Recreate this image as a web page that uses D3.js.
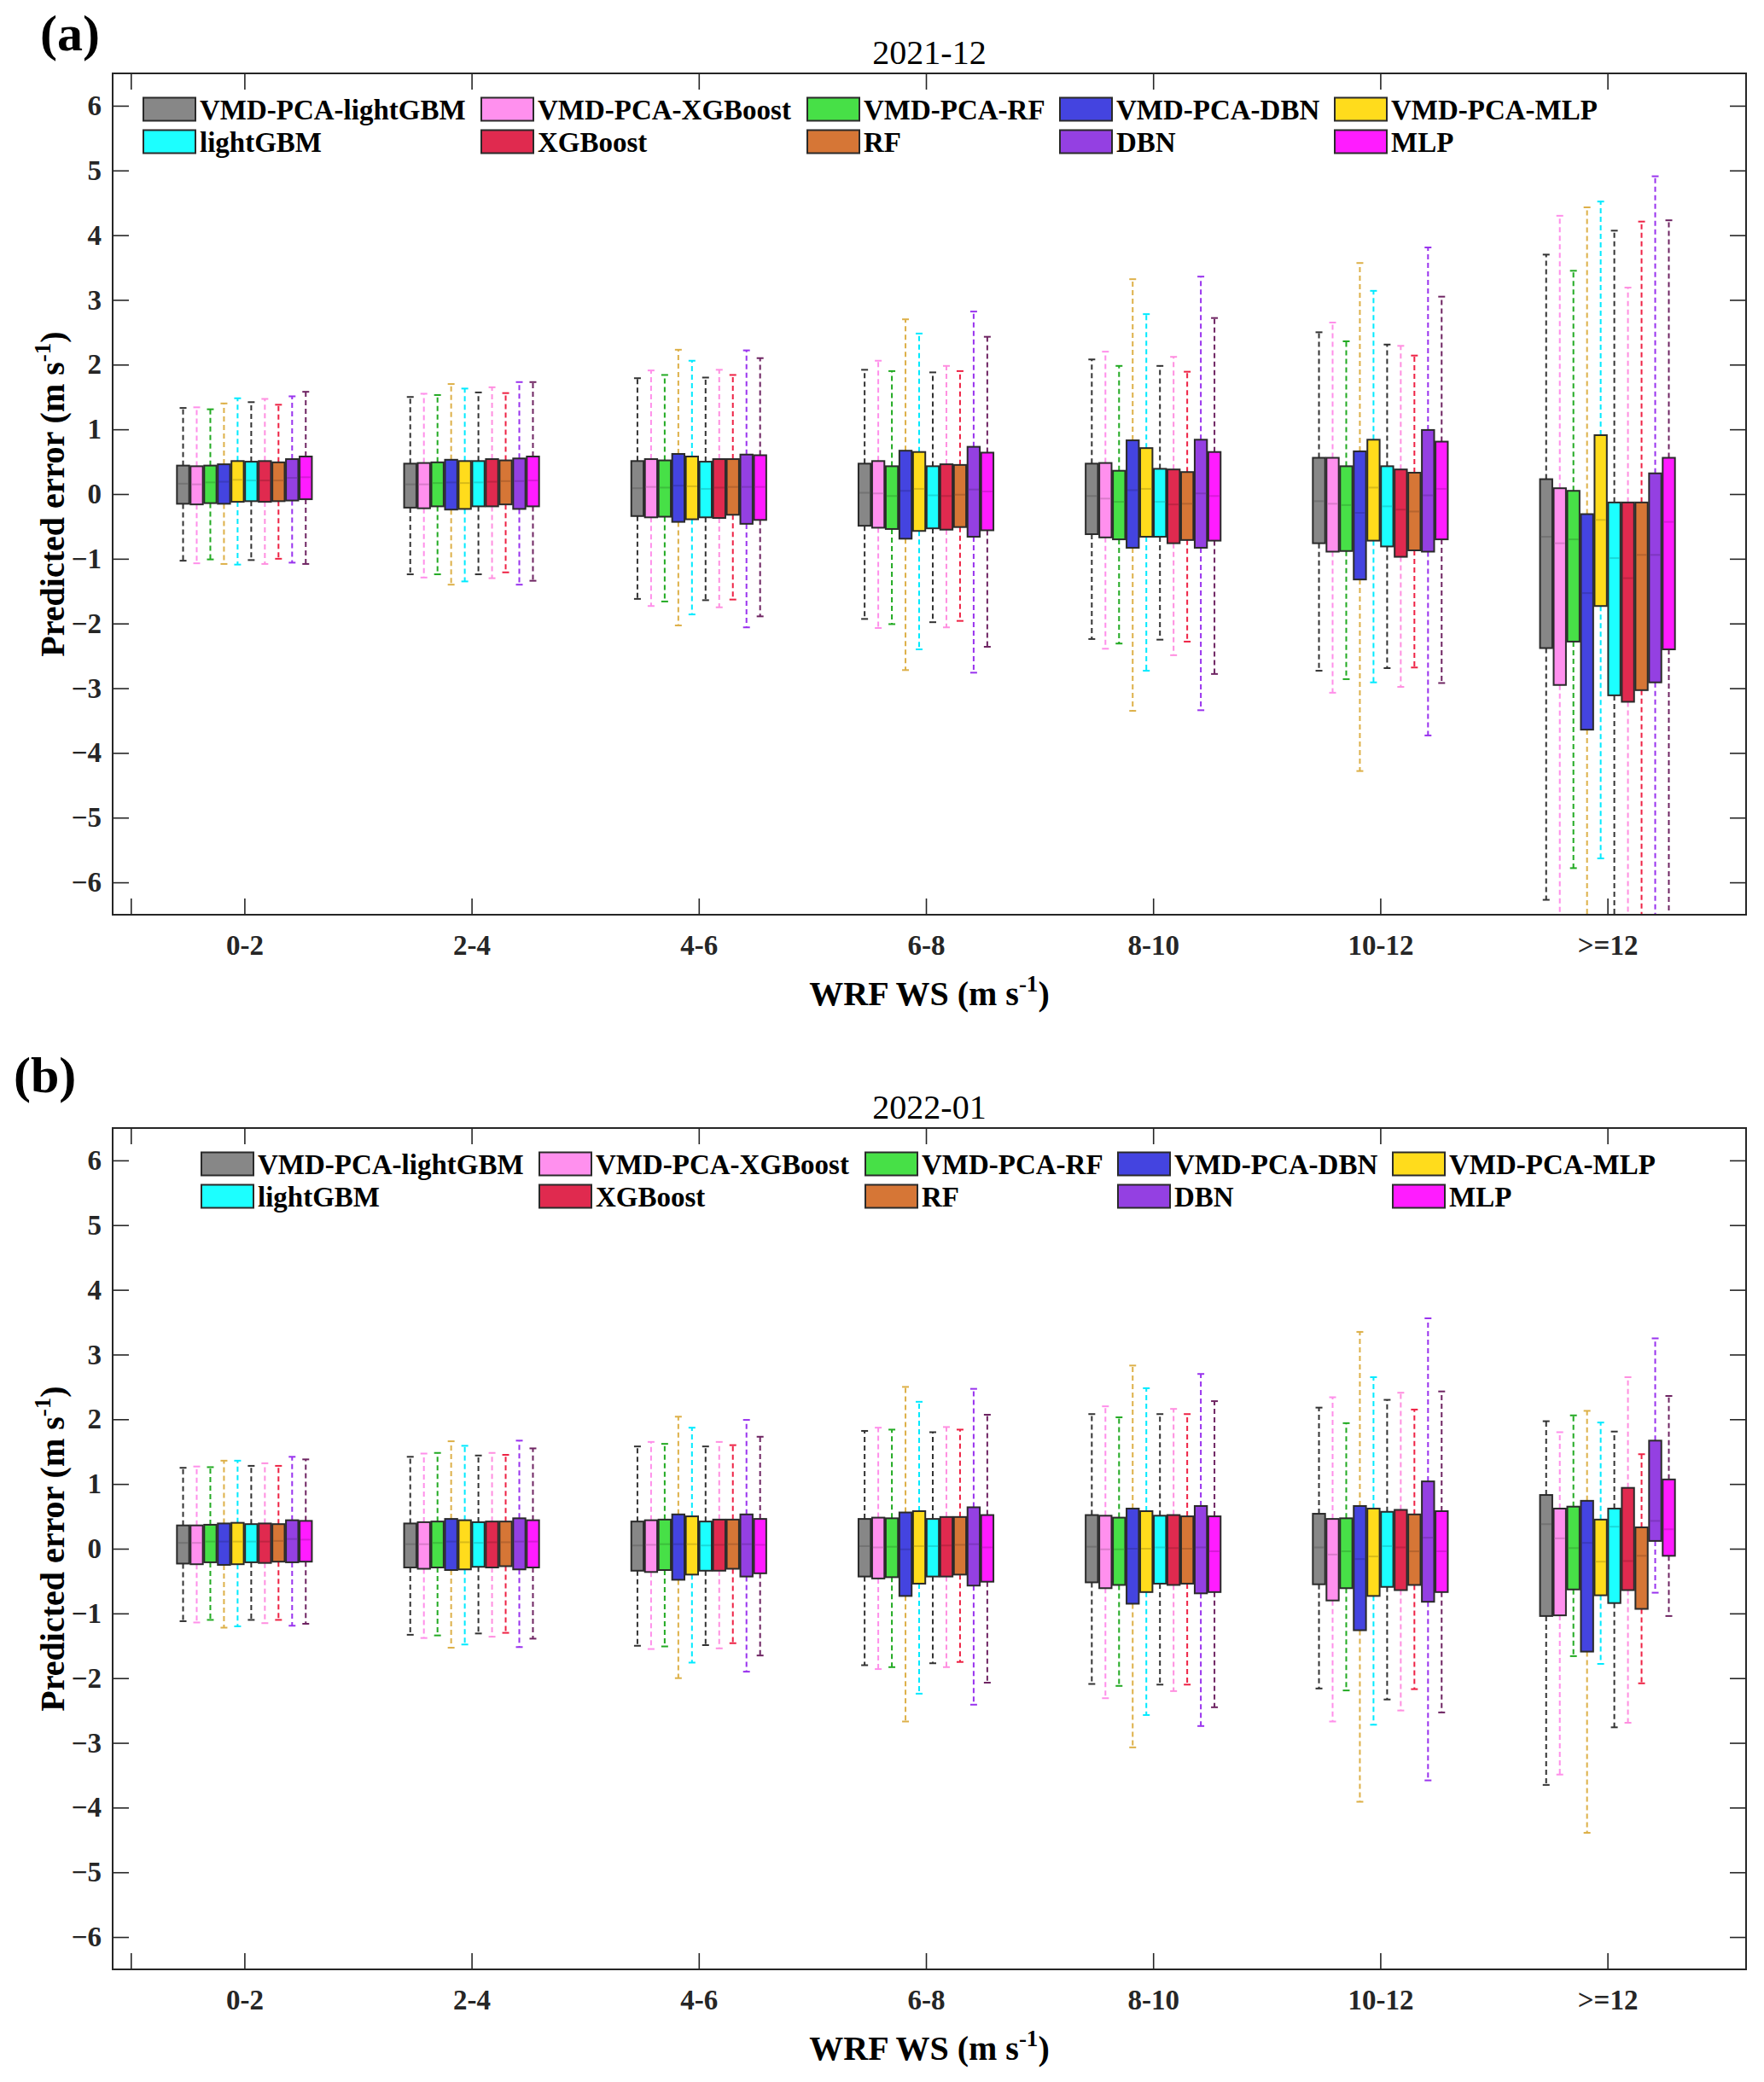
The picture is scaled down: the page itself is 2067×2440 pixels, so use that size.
<!DOCTYPE html>
<html>
<head>
<meta charset="utf-8">
<script src="https://cdn.jsdelivr.net/npm/d3@7"></script>
<style>
  body { margin: 0; background: #fff; }
  text { font-family: "Liberation Serif", "Times New Roman", serif; }
</style>
</head>
<body>
<svg id="chart" width="2067" height="2440"></svg>
<script>
const categories = ["0-2", "2-4", "4-6", "6-8", "8-10", "10-12", ">=12"]
const series = ["VMD-PCA-lightGBM", "VMD-PCA-XGBoost", "VMD-PCA-RF", "VMD-PCA-DBN", "VMD-PCA-MLP",
                "lightGBM", "XGBoost", "RF", "DBN", "MLP"]
const y_ticks = [-6, -5, -4, -3, -2, -1, 0, 1, 2, 3, 4, 5, 6]

// 2021-12, one row per wind speed bin, one value per model
const dec_upper = [
  [1.33, 1.34, 1.31, 1.40, 1.48, 1.42, 1.47, 1.38, 1.51, 1.58],
  [1.50, 1.55, 1.53, 1.70, 1.63, 1.57, 1.65, 1.56, 1.73, 1.73],
  [1.79, 1.91, 1.84, 2.23, 2.06, 1.80, 1.92, 1.84, 2.22, 2.10],
  [1.92, 2.06, 1.90, 2.70, 2.48, 1.88, 1.98, 1.90, 2.82, 2.43],
  [2.08, 2.20, 1.98, 3.32, 2.78, 1.98, 2.12, 1.89, 3.36, 2.72],
  [2.50, 2.65, 2.36, 3.57, 3.14, 2.31, 2.29, 2.14, 3.81, 3.05],
  [3.70, 4.30, 3.45, 4.43, 4.52, 4.07, 3.19, 4.21, 4.91, 4.23]
]
const dec_q3 = [
  [0.44, 0.43, 0.44, 0.46, 0.51, 0.50, 0.51, 0.49, 0.54, 0.58],
  [0.47, 0.48, 0.49, 0.53, 0.51, 0.51, 0.54, 0.52, 0.55, 0.58],
  [0.51, 0.54, 0.52, 0.62, 0.58, 0.50, 0.54, 0.54, 0.61, 0.60],
  [0.47, 0.51, 0.43, 0.67, 0.65, 0.43, 0.46, 0.45, 0.73, 0.64],
  [0.47, 0.48, 0.36, 0.83, 0.71, 0.39, 0.38, 0.34, 0.84, 0.65],
  [0.56, 0.56, 0.43, 0.66, 0.84, 0.43, 0.38, 0.33, 0.99, 0.81],
  [0.23, 0.09, 0.05, -0.31, 0.91, -0.13, -0.13, -0.13, 0.32, 0.56]
]
const dec_median = [
  [0.16, 0.15, 0.18, 0.19, 0.22, 0.21, 0.21, 0.21, 0.25, 0.26],
  [0.15, 0.15, 0.17, 0.18, 0.17, 0.18, 0.19, 0.20, 0.20, 0.21],
  [0.09, 0.11, 0.10, 0.13, 0.12, 0.08, 0.10, 0.11, 0.11, 0.11],
  [0.02, 0.01, -0.03, 0.05, 0.08, -0.02, -0.03, -0.01, 0.07, 0.04],
  [-0.03, -0.07, -0.12, 0.06, 0.08, -0.12, -0.16, -0.15, 0.01, -0.03],
  [-0.11, -0.15, -0.17, -0.29, 0.10, -0.19, -0.24, -0.27, -0.02, 0.08],
  [-0.66, -0.76, -0.70, -1.53, -0.40, -0.99, -1.30, -0.94, -0.94, -0.43]
]
const dec_q1 = [
  [-0.15, -0.16, -0.14, -0.15, -0.12, -0.11, -0.12, -0.11, -0.10, -0.08],
  [-0.21, -0.22, -0.19, -0.24, -0.23, -0.19, -0.19, -0.16, -0.23, -0.19],
  [-0.34, -0.36, -0.35, -0.43, -0.39, -0.36, -0.37, -0.32, -0.46, -0.40],
  [-0.49, -0.52, -0.54, -0.69, -0.57, -0.53, -0.55, -0.51, -0.66, -0.56],
  [-0.62, -0.67, -0.70, -0.83, -0.66, -0.66, -0.76, -0.71, -0.83, -0.72],
  [-0.76, -0.89, -0.88, -1.32, -0.72, -0.81, -0.97, -0.87, -0.89, -0.70],
  [-2.38, -2.95, -2.28, -3.64, -1.73, -3.11, -3.21, -3.03, -2.91, -2.40]
]
const dec_lower = [
  [-1.03, -1.07, -1.01, -1.08, -1.09, -1.02, -1.08, -1.00, -1.06, -1.08],
  [-1.24, -1.29, -1.24, -1.40, -1.35, -1.24, -1.30, -1.21, -1.40, -1.34],
  [-1.62, -1.73, -1.66, -2.03, -1.86, -1.64, -1.75, -1.63, -2.06, -1.89],
  [-1.93, -2.07, -2.01, -2.72, -2.40, -1.98, -2.06, -1.96, -2.76, -2.36],
  [-2.24, -2.39, -2.31, -3.35, -2.73, -2.25, -2.49, -2.28, -3.34, -2.78],
  [-2.73, -3.07, -2.86, -4.28, -2.91, -2.69, -2.98, -2.68, -3.73, -2.92],
  [-6.27, -7.00, -5.78, -7.20, -5.63, -6.90, -7.10, -7.00, -7.30, -7.20]
]

// 2022-01
const jan_upper = [
  [1.25, 1.27, 1.26, 1.36, 1.36, 1.28, 1.32, 1.28, 1.42, 1.38],
  [1.42, 1.47, 1.48, 1.66, 1.59, 1.44, 1.48, 1.45, 1.67, 1.55],
  [1.58, 1.65, 1.62, 2.04, 1.87, 1.58, 1.65, 1.60, 1.99, 1.73],
  [1.82, 1.87, 1.84, 2.50, 2.27, 1.80, 1.88, 1.84, 2.47, 2.07],
  [2.08, 2.20, 2.03, 2.83, 2.48, 2.08, 2.16, 2.08, 2.70, 2.28],
  [2.18, 2.34, 1.94, 3.35, 2.65, 2.30, 2.41, 2.15, 3.56, 2.43],
  [1.97, 1.80, 2.06, 2.13, 1.95, 1.81, 2.65, 1.46, 3.25, 2.36]
]
const jan_q3 = [
  [0.36, 0.36, 0.37, 0.39, 0.40, 0.38, 0.39, 0.38, 0.44, 0.43],
  [0.39, 0.41, 0.42, 0.46, 0.44, 0.41, 0.42, 0.42, 0.47, 0.44],
  [0.42, 0.44, 0.45, 0.53, 0.50, 0.42, 0.45, 0.45, 0.53, 0.46],
  [0.46, 0.48, 0.47, 0.56, 0.58, 0.46, 0.49, 0.49, 0.64, 0.52],
  [0.52, 0.51, 0.48, 0.62, 0.58, 0.51, 0.52, 0.50, 0.66, 0.50],
  [0.54, 0.46, 0.47, 0.66, 0.62, 0.57, 0.60, 0.53, 1.04, 0.58],
  [0.83, 0.62, 0.65, 0.74, 0.45, 0.62, 0.94, 0.33, 1.67, 1.07]
]
const jan_median = [
  [0.09, 0.09, 0.11, 0.11, 0.11, 0.11, 0.11, 0.12, 0.15, 0.14],
  [0.07, 0.07, 0.09, 0.11, 0.10, 0.09, 0.10, 0.10, 0.11, 0.11],
  [0.05, 0.06, 0.07, 0.07, 0.07, 0.05, 0.06, 0.07, 0.07, 0.06],
  [0.04, 0.02, 0.03, -0.01, 0.04, 0.04, 0.05, 0.06, 0.07, 0.02],
  [0.03, -0.01, -0.01, 0.00, 0.00, 0.02, 0.01, 0.00, 0.02, -0.04],
  [0.02, -0.09, -0.04, -0.16, -0.12, 0.04, 0.02, -0.04, 0.17, -0.04],
  [0.38, 0.16, 0.01, 0.09, -0.20, 0.34, -0.19, -0.11, 0.43, 0.30]
]
const jan_q1 = [
  [-0.23, -0.24, -0.21, -0.25, -0.24, -0.21, -0.22, -0.20, -0.21, -0.20],
  [-0.29, -0.31, -0.29, -0.33, -0.32, -0.28, -0.29, -0.27, -0.32, -0.29],
  [-0.34, -0.36, -0.33, -0.48, -0.40, -0.34, -0.34, -0.31, -0.43, -0.38],
  [-0.43, -0.46, -0.44, -0.73, -0.54, -0.43, -0.43, -0.40, -0.57, -0.51],
  [-0.52, -0.61, -0.56, -0.85, -0.67, -0.54, -0.56, -0.54, -0.69, -0.67],
  [-0.55, -0.80, -0.61, -1.26, -0.73, -0.59, -0.64, -0.56, -0.82, -0.67],
  [-1.04, -1.03, -0.63, -1.59, -0.72, -0.84, -0.64, -0.93, 0.12, -0.11]
]
const jan_lower = [
  [-1.12, -1.14, -1.10, -1.22, -1.20, -1.10, -1.15, -1.10, -1.19, -1.16],
  [-1.33, -1.38, -1.34, -1.53, -1.48, -1.31, -1.36, -1.30, -1.52, -1.39],
  [-1.50, -1.55, -1.51, -2.00, -1.76, -1.49, -1.54, -1.46, -1.90, -1.65],
  [-1.80, -1.86, -1.83, -2.67, -2.24, -1.77, -1.83, -1.75, -2.41, -2.07],
  [-2.09, -2.31, -2.12, -3.07, -2.57, -2.10, -2.20, -2.10, -2.74, -2.45],
  [-2.16, -2.67, -2.19, -3.91, -2.72, -2.33, -2.50, -2.17, -3.58, -2.53],
  [-3.65, -3.49, -1.66, -4.39, -1.78, -2.76, -2.69, -2.08, -0.68, -1.04]
]

const box_colors = ["#878787", "#ff90ee", "#47e047", "#4444e0", "#ffdc1c",
                    "#1cffff", "#e02a4f", "#d67636", "#9440e2", "#ff1cff"]
// the whisker colours in the figure do not follow the box colours
const whisker_colors = ["#333333", "#ff8fea", "#22aa22", "#ddb048", "#00eaff",
                        "#333333", "#ff8fe0", "#ee2244", "#9933ee", "#6e2462"]

const axis_color = "#262626"
const plot_left = 132
const plot_right = 2046
const plot_height = 986
const box_step = 0.06
const box_width = 0.054

const panels = [
  {label: "(a)", label_x: 47, label_y: 59, title: "2021-12", top: 86, legend_shift: 0,
   upper: dec_upper, q3: dec_q3, median: dec_median, q1: dec_q1, lower: dec_lower},
  {label: "(b)", label_x: 16, label_y: 1280, title: "2022-01", top: 1322, legend_shift: 68,
   upper: jan_upper, q3: jan_q3, median: jan_median, q1: jan_q1, lower: jan_lower}
]

const legend_cols = [168, 564, 946, 1242, 1564]

const svg = d3.select("#chart")

function bold_axis_text(sel){
  sel.selectAll("text")
    .attr("font-size", 33)
    .attr("font-weight", "bold")
    .attr("fill", axis_color)
  sel.selectAll("line").attr("stroke", axis_color).attr("stroke-width", 1.6)
  sel.select(".domain").remove()
}

function draw_panel(p, idx){
  const x = d3.scaleLinear().domain([0.42, 7.61]).range([plot_left, plot_right])
  const y = d3.scaleLinear().domain([-6.5, 6.5]).range([p.top + plot_height, p.top])
  const g = svg.append("g")

  const clip_id = "clip" + idx
  svg.append("clipPath").attr("id", clip_id)
    .append("rect")
    .attr("x", plot_left).attr("y", p.top)
    .attr("width", plot_right - plot_left).attr("height", plot_height)

  // flatten the arrays into one record per box
  const boxes = []
  categories.forEach((cat, i) => {
    series.forEach((name, j) => {
      boxes.push({
        pos: i + 1 + (j - 4.5) * box_step, s: j,
        upper: p.upper[i][j], q3: p.q3[i][j], median: p.median[i][j],
        q1: p.q1[i][j], lower: p.lower[i][j]
      })
    })
  })

  // axes: ticks point inwards on all four sides
  const x_ticks = [0.5, 1, 2, 3, 4, 5, 6, 7]
  g.append("g")
    .attr("transform", `translate(0,${p.top + plot_height})`)
    .call(d3.axisBottom(x).tickValues(x_ticks).tickSizeInner(-19).tickSizeOuter(0).tickPadding(24)
      .tickFormat(d => d < 1 ? "" : categories[d - 1]))
    .call(bold_axis_text)
  g.append("g")
    .attr("transform", `translate(0,${p.top})`)
    .call(d3.axisTop(x).tickValues(x_ticks).tickSizeInner(-19).tickSizeOuter(0).tickFormat(""))
    .call(bold_axis_text)
  g.append("g")
    .attr("transform", `translate(${plot_left},0)`)
    .call(d3.axisLeft(y).tickValues(y_ticks).tickSizeInner(-19).tickSizeOuter(0).tickPadding(13)
      .tickFormat(d3.format("d")))
    .call(bold_axis_text)
  g.append("g")
    .attr("transform", `translate(${plot_right},0)`)
    .call(d3.axisRight(y).tickValues(y_ticks).tickSizeInner(-19).tickSizeOuter(0).tickFormat(""))
    .call(bold_axis_text)

  const marks = g.append("g").attr("clip-path", `url(#${clip_id})`)

  // whiskers (dashed) with small caps
  const half_w = (x(box_width) - x(0)) / 2
  marks.selectAll(".whisker-up").data(boxes).enter().append("line")
    .attr("x1", d => x(d.pos)).attr("x2", d => x(d.pos))
    .attr("y1", d => y(d.q3)).attr("y2", d => y(d.upper))
    .attr("stroke", d => whisker_colors[d.s]).attr("stroke-width", 2)
    .attr("stroke-dasharray", "6,4")
  marks.selectAll(".whisker-down").data(boxes).enter().append("line")
    .attr("x1", d => x(d.pos)).attr("x2", d => x(d.pos))
    .attr("y1", d => y(d.q1)).attr("y2", d => y(d.lower))
    .attr("stroke", d => whisker_colors[d.s]).attr("stroke-width", 2)
    .attr("stroke-dasharray", "6,4")
  marks.selectAll(".cap").data(boxes.flatMap(d => [{s: d.s, pos: d.pos, v: d.upper}, {s: d.s, pos: d.pos, v: d.lower}]))
    .enter().append("line")
    .attr("x1", d => x(d.pos) - 4).attr("x2", d => x(d.pos) + 4)
    .attr("y1", d => y(d.v)).attr("y2", d => y(d.v))
    .attr("stroke", d => whisker_colors[d.s]).attr("stroke-width", 2)

  // boxes
  marks.selectAll(".box").data(boxes).enter().append("rect")
    .attr("x", d => x(d.pos) - half_w)
    .attr("width", half_w * 2)
    .attr("y", d => y(d.q3))
    .attr("height", d => y(d.q1) - y(d.q3))
    .attr("fill", d => box_colors[d.s])
    .attr("stroke", "#2a2a2a").attr("stroke-width", 2)
  marks.selectAll(".median").data(boxes).enter().append("line")
    .attr("x1", d => x(d.pos) - half_w + 1).attr("x2", d => x(d.pos) + half_w - 1)
    .attr("y1", d => y(d.median)).attr("y2", d => y(d.median))
    .attr("stroke", d => d3.color(box_colors[d.s]).darker(0.8))
    .attr("stroke-opacity", 0.6).attr("stroke-width", 2)

  // frame
  g.append("rect")
    .attr("x", plot_left).attr("y", p.top)
    .attr("width", plot_right - plot_left).attr("height", plot_height)
    .attr("fill", "none").attr("stroke", axis_color).attr("stroke-width", 2)

  // legend, 2 rows x 5 columns
  const legend = g.append("g")
  series.forEach((name, j) => {
    const row = Math.floor(j / 5)
    const col = j % 5
    const lx = legend_cols[col] + p.legend_shift
    const ly = p.top + 42 + row * 38
    legend.append("rect")
      .attr("x", lx).attr("y", ly - 13.5)
      .attr("width", 61).attr("height", 27)
      .attr("fill", box_colors[j])
      .attr("stroke", "#2a2a2a").attr("stroke-width", 2)
    legend.append("text")
      .attr("x", lx + 66).attr("y", ly)
      .attr("dy", "0.35em")
      .attr("font-size", 33).attr("font-weight", "bold")
      .attr("fill", "#000")
      .text(name)
  })

  // titles and labels
  svg.append("text")
    .attr("x", (plot_left + plot_right) / 2).attr("y", p.top - 11)
    .attr("text-anchor", "middle").attr("font-size", 40).attr("fill", "#000")
    .text(p.title)

  svg.append("text")
    .attr("x", p.label_x).attr("y", p.label_y)
    .attr("font-size", 60).attr("font-weight", "bold").attr("fill", "#000")
    .text(p.label)

  const xt = svg.append("text")
    .attr("x", (plot_left + plot_right) / 2).attr("y", p.top + plot_height + 106)
    .attr("text-anchor", "middle").attr("font-size", 40).attr("font-weight", "bold").attr("fill", "#000")
  xt.append("tspan").text("WRF WS (m s")
  xt.append("tspan").attr("font-size", 27).attr("baseline-shift", "60%").text("-1")
  xt.append("tspan").text(")")

  const yt = svg.append("text")
    .attr("transform", `translate(75,${p.top + plot_height / 2}) rotate(-90)`)
    .attr("text-anchor", "middle").attr("font-size", 40).attr("font-weight", "bold").attr("fill", "#000")
  yt.append("tspan").text("Predicted error (m s")
  yt.append("tspan").attr("font-size", 27).attr("baseline-shift", "60%").text("-1")
  yt.append("tspan").text(")")
}

panels.forEach(draw_panel)
</script>
</body>
</html>
